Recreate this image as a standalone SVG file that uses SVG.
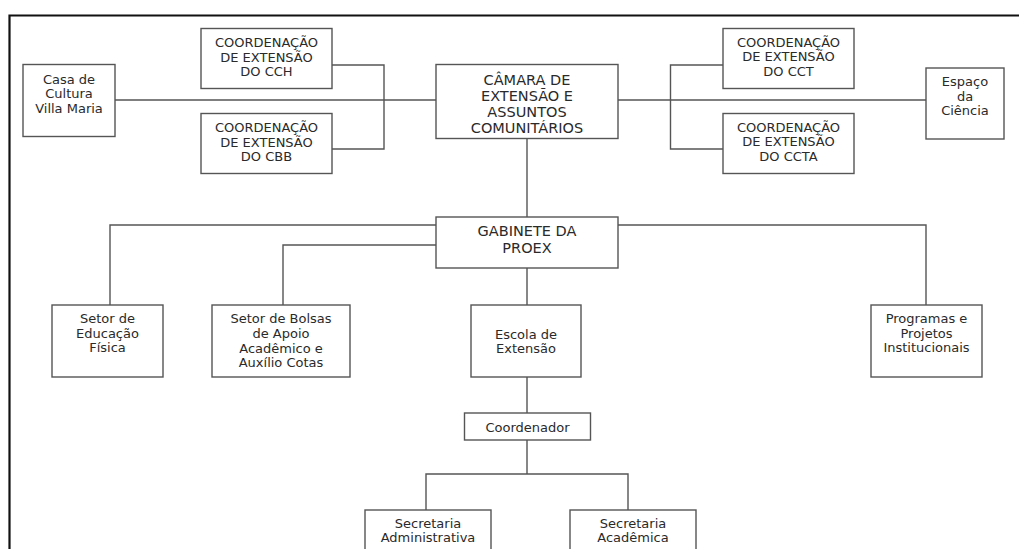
<svg xmlns="http://www.w3.org/2000/svg" width="1019" height="549" viewBox="0 0 1019 549">
<style>
.box{fill:#fff;stroke:#555;stroke-width:1.4}
.ln{fill:none;stroke:#555;stroke-width:1.4}
.frame{fill:none;stroke:#111;stroke-width:2.2}
text{font-family:"DejaVu Sans","Liberation Sans",sans-serif;font-size:13px;fill:#2a2a2a;text-anchor:middle}
.big{font-size:14.5px}
</style>
<rect width="1019" height="549" fill="#fff"/>
<path class="frame" d="M9.5 560 V15.5 H1019"/>
<g id="connectors">
<path class="ln" d="M115 100 H436 M618 100 H926"/>
<path class="ln" d="M332 65 H384 V149 H332"/>
<path class="ln" d="M723 65 H670.5 V149 H723"/>
<path class="ln" d="M527 138 V217"/>
<path class="ln" d="M436 225 H110 V305"/>
<path class="ln" d="M436 245 H283 V305"/>
<path class="ln" d="M618 225 H926 V305"/>
<path class="ln" d="M527 268 V305 M527 377 V413"/>
<path class="ln" d="M527 440 V474 M426 510 V474 H628 V510"/>
</g>
<g id="casa"><rect class="box" x="23" y="64.5" width="92" height="72"/><text x="69" y="83.5">Casa de</text><text x="69" y="98">Cultura</text><text x="69" y="113">Villa Maria</text></g>
<g id="cch"><rect class="box" x="201" y="28.5" width="131" height="60"/><text x="266.5" y="47">COORDENAÇÃO</text><text x="266.5" y="61.5">DE EXTENSÃO</text><text x="266.5" y="76">DO CCH</text></g>
<g id="cbb"><rect class="box" x="201" y="113.5" width="131" height="60"/><text x="266.5" y="132">COORDENAÇÃO</text><text x="266.5" y="146.5">DE EXTENSÃO</text><text x="266.5" y="161">DO CBB</text></g>
<g id="camara"><rect class="box" x="436" y="64.5" width="182" height="74"/><text class="big" x="527" y="85.3">CÂMARA DE</text><text class="big" x="527" y="101">EXTENSÃO E</text><text class="big" x="527" y="117">ASSUNTOS</text><text class="big" x="527" y="132.6">COMUNITÁRIOS</text></g>
<g id="cct"><rect class="box" x="723" y="28.5" width="131" height="60"/><text x="788.5" y="46.5">COORDENAÇÃO</text><text x="788.5" y="61">DE EXTENSÃO</text><text x="788.5" y="76">DO CCT</text></g>
<g id="ccta"><rect class="box" x="723" y="113.5" width="131" height="60"/><text x="788.5" y="131.5">COORDENAÇÃO</text><text x="788.5" y="146">DE EXTENSÃO</text><text x="788.5" y="161">DO CCTA</text></g>
<g id="espaco"><rect class="box" x="926" y="68" width="78" height="71"/><text x="965" y="86">Espaço</text><text x="965" y="100.5">da</text><text x="965" y="114.5">Ciência</text></g>
<g id="gabinete"><rect class="box" x="436" y="217" width="182" height="51"/><text class="big" x="527" y="236">GABINETE DA</text><text class="big" x="527" y="252.6">PROEX</text></g>
<g id="setor-ed"><rect class="box" x="52" y="305" width="111" height="72"/><text x="107.5" y="323">Setor de</text><text x="107.5" y="338">Educação</text><text x="107.5" y="352">Física</text></g>
<g id="bolsas"><rect class="box" x="212" y="305" width="138" height="72"/><text x="281" y="323">Setor de Bolsas</text><text x="281" y="338">de Apoio</text><text x="281" y="353">Acadêmico e</text><text x="281" y="367">Auxílio Cotas</text></g>
<g id="escola"><rect class="box" x="471" y="305" width="110" height="72"/><text x="526" y="338.5">Escola de</text><text x="526" y="352.5">Extensão</text></g>
<g id="programas"><rect class="box" x="871" y="305" width="111" height="72"/><text x="926.5" y="323">Programas e</text><text x="926.5" y="338">Projetos</text><text x="926.5" y="352">Institucionais</text></g>
<g id="coordenador"><rect class="box" x="464.5" y="413" width="126" height="27"/><text x="527.5" y="432">Coordenador</text></g>
<g id="sec-adm"><rect class="box" x="365" y="510" width="126" height="60"/><text x="428" y="528">Secretaria</text><text x="428" y="542">Administrativa</text></g>
<g id="sec-acad"><rect class="box" x="570" y="510" width="126" height="60"/><text x="633" y="528">Secretaria</text><text x="633" y="542">Acadêmica</text></g>
</svg>
